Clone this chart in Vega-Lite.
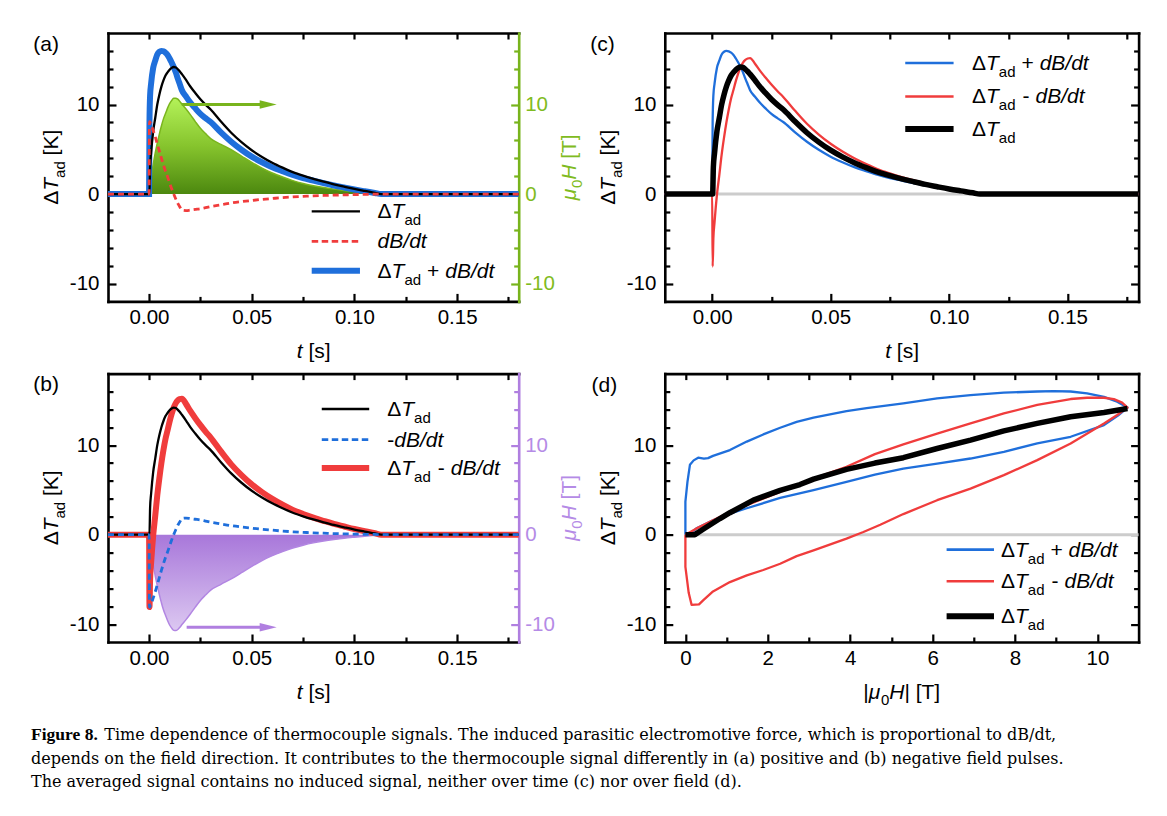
{
  "$schema": "https://vega.github.io/schema/vega-lite/v6.json",
  "background": "white",
  "padding": {"left": 31, "top": 31, "right": 10, "bottom": 10},
  "config": {
    "font": "Liberation Sans",
    "view": {"stroke": null},
    "axis": {"grid": false, "domainColor": "#000", "domainWidth": 2.6, "domainCap": "square", "tickColor": "#000", "tickWidth": 2.2, "labelFont": "Liberation Sans", "labelFontSize": 20.5, "labelColor": "#000", "labelFlush": false, "labelOverlap": false, "titlePadding": 0},
    "text": {"font": "Liberation Sans", "fontSize": 21, "align": "left", "baseline": "middle", "color": "#000"},
    "line": {"strokeCap": "butt"},
    "rule": {"strokeCap": "butt"}
  },
  "datasets": {
    "ts": [
      {"t": -0.02, "T": 0, "D": 0, "nD": 0, "P": 0, "M": 0, "H": 0, "nH": 0},
      {"t": 0, "T": 0, "D": 0, "nD": 0, "P": 0, "M": 0, "H": 0, "nH": 0},
      {"t": 0.0002, "T": 0, "D": 8.1, "nD": -8.1, "P": 8.1, "M": -8.1, "H": 0.3, "nH": -0.3},
      {"t": 0.0005, "T": 3.0, "D": 8.0, "nD": -8.0, "P": 11.0, "M": -5.0, "H": 0.9, "nH": -0.9},
      {"t": 0.001, "T": 4.6, "D": 7.75, "nD": -7.75, "P": 12.35, "M": -3.15, "H": 1.8, "nH": -1.8},
      {"t": 0.002, "T": 7.0, "D": 7.1, "nD": -7.1, "P": 14.1, "M": -0.1, "H": 3.3, "nH": -3.3},
      {"t": 0.003, "T": 8.5, "D": 6.4, "nD": -6.4, "P": 14.9, "M": 2.1, "H": 4.6, "nH": -4.6},
      {"t": 0.004, "T": 10.0, "D": 5.6, "nD": -5.6, "P": 15.6, "M": 4.4, "H": 5.7, "nH": -5.7},
      {"t": 0.005, "T": 11.1, "D": 4.8, "nD": -4.8, "P": 15.9, "M": 6.3, "H": 6.7, "nH": -6.7},
      {"t": 0.006, "T": 12.0, "D": 4.0, "nD": -4.0, "P": 16.0, "M": 8.0, "H": 7.6, "nH": -7.6},
      {"t": 0.007, "T": 12.7, "D": 3.25, "nD": -3.25, "P": 15.95, "M": 9.45, "H": 8.4, "nH": -8.4},
      {"t": 0.008, "T": 13.25, "D": 2.55, "nD": -2.55, "P": 15.8, "M": 10.7, "H": 9.0, "nH": -9.0},
      {"t": 0.009, "T": 13.6, "D": 1.95, "nD": -1.95, "P": 15.55, "M": 11.65, "H": 9.6, "nH": -9.6},
      {"t": 0.010, "T": 13.9, "D": 1.25, "nD": -1.25, "P": 15.15, "M": 12.65, "H": 10.1, "nH": -10.1},
      {"t": 0.011, "T": 14.1, "D": 0.6, "nD": -0.6, "P": 14.7, "M": 13.5, "H": 10.45, "nH": -10.45},
      {"t": 0.012, "T": 14.2, "D": 0, "nD": 0, "P": 14.2, "M": 14.2, "H": 10.7, "nH": -10.7},
      {"t": 0.013, "T": 14.15, "D": -0.55, "nD": 0.55, "P": 13.6, "M": 14.7, "H": 10.72, "nH": -10.72},
      {"t": 0.014, "T": 13.95, "D": -1.05, "nD": 1.05, "P": 12.9, "M": 15.0, "H": 10.6, "nH": -10.6},
      {"t": 0.015, "T": 13.7, "D": -1.45, "nD": 1.45, "P": 12.25, "M": 15.15, "H": 10.35, "nH": -10.35},
      {"t": 0.016, "T": 13.4, "D": -1.8, "nD": 1.8, "P": 11.6, "M": 15.2, "H": 10.05, "nH": -10.05},
      {"t": 0.018, "T": 12.75, "D": -1.85, "nD": 1.85, "P": 10.9, "M": 14.6, "H": 9.5, "nH": -9.5},
      {"t": 0.020, "T": 12.05, "D": -1.8, "nD": 1.8, "P": 10.25, "M": 13.85, "H": 8.9, "nH": -8.9},
      {"t": 0.0225, "T": 11.3, "D": -1.72, "nD": 1.72, "P": 9.58, "M": 13.02, "H": 8.1, "nH": -8.1},
      {"t": 0.025, "T": 10.6, "D": -1.64, "nD": 1.64, "P": 8.96, "M": 12.24, "H": 7.35, "nH": -7.35},
      {"t": 0.0275, "T": 10.0, "D": -1.52, "nD": 1.52, "P": 8.48, "M": 11.52, "H": 6.75, "nH": -6.75},
      {"t": 0.030, "T": 9.45, "D": -1.4, "nD": 1.4, "P": 8.05, "M": 10.85, "H": 6.2, "nH": -6.2},
      {"t": 0.035, "T": 8.1, "D": -1.2, "nD": 1.2, "P": 6.9, "M": 9.3, "H": 5.55, "nH": -5.55},
      {"t": 0.040, "T": 6.85, "D": -1.0, "nD": 1.0, "P": 5.85, "M": 7.85, "H": 4.95, "nH": -4.95},
      {"t": 0.045, "T": 5.8, "D": -0.85, "nD": 0.85, "P": 4.95, "M": 6.65, "H": 4.25, "nH": -4.25},
      {"t": 0.050, "T": 4.9, "D": -0.72, "nD": 0.72, "P": 4.18, "M": 5.62, "H": 3.55, "nH": -3.55},
      {"t": 0.055, "T": 4.15, "D": -0.6, "nD": 0.6, "P": 3.55, "M": 4.75, "H": 2.9, "nH": -2.9},
      {"t": 0.060, "T": 3.5, "D": -0.5, "nD": 0.5, "P": 3.0, "M": 4.0, "H": 2.35, "nH": -2.35},
      {"t": 0.065, "T": 2.95, "D": -0.4, "nD": 0.4, "P": 2.55, "M": 3.35, "H": 1.9, "nH": -1.9},
      {"t": 0.070, "T": 2.45, "D": -0.32, "nD": 0.32, "P": 2.13, "M": 2.77, "H": 1.5, "nH": -1.5},
      {"t": 0.075, "T": 2.05, "D": -0.26, "nD": 0.26, "P": 1.79, "M": 2.31, "H": 1.18, "nH": -1.18},
      {"t": 0.080, "T": 1.7, "D": -0.2, "nD": 0.2, "P": 1.5, "M": 1.9, "H": 0.92, "nH": -0.92},
      {"t": 0.085, "T": 1.38, "D": -0.16, "nD": 0.16, "P": 1.22, "M": 1.54, "H": 0.72, "nH": -0.72},
      {"t": 0.090, "T": 1.08, "D": -0.12, "nD": 0.12, "P": 0.96, "M": 1.2, "H": 0.55, "nH": -0.55},
      {"t": 0.095, "T": 0.82, "D": -0.09, "nD": 0.09, "P": 0.73, "M": 0.91, "H": 0.4, "nH": -0.4},
      {"t": 0.100, "T": 0.57, "D": -0.06, "nD": 0.06, "P": 0.51, "M": 0.63, "H": 0.28, "nH": -0.28},
      {"t": 0.105, "T": 0.35, "D": -0.04, "nD": 0.04, "P": 0.31, "M": 0.39, "H": 0.17, "nH": -0.17},
      {"t": 0.110, "T": 0.14, "D": -0.02, "nD": 0.02, "P": 0.12, "M": 0.16, "H": 0.08, "nH": -0.08},
      {"t": 0.113, "T": 0, "D": 0, "nD": 0, "P": 0, "M": 0, "H": 0.02, "nH": -0.02},
      {"t": 0.115, "T": 0, "D": 0, "nD": 0, "P": 0, "M": 0, "H": 0, "nH": 0},
      {"t": 0.18, "T": 0, "D": 0, "nD": 0, "P": 0, "M": 0, "H": 0, "nH": 0}
    ],
    "loop": [
      {"s": "P", "k": 1, "h": 0, "v": 0}, {"s": "P", "k": 2, "h": 0, "v": 3.7}, {"s": "P", "k": 3, "h": 0.05, "v": 5.9}, {"s": "P", "k": 4, "h": 0.11, "v": 7.8},
      {"s": "P", "k": 5, "h": 0.2, "v": 8.3}, {"s": "P", "k": 6, "h": 0.31, "v": 8.6}, {"s": "P", "k": 7, "h": 0.45, "v": 8.5}, {"s": "P", "k": 8, "h": 0.55, "v": 8.55},
      {"s": "P", "k": 9, "h": 0.67, "v": 8.8}, {"s": "P", "k": 10, "h": 1.08, "v": 9.45}, {"s": "P", "k": 11, "h": 1.49, "v": 10.4}, {"s": "P", "k": 12, "h": 1.89, "v": 11.2},
      {"s": "P", "k": 13, "h": 2.3, "v": 11.95}, {"s": "P", "k": 14, "h": 2.7, "v": 12.6}, {"s": "P", "k": 15, "h": 3.11, "v": 13.07}, {"s": "P", "k": 16, "h": 3.51, "v": 13.44},
      {"s": "P", "k": 17, "h": 3.91, "v": 13.8}, {"s": "P", "k": 18, "h": 4.4, "v": 14.15}, {"s": "P", "k": 19, "h": 5.29, "v": 14.67}, {"s": "P", "k": 20, "h": 6.11, "v": 15.23},
      {"s": "P", "k": 21, "h": 6.92, "v": 15.6}, {"s": "P", "k": 22, "h": 7.73, "v": 15.87}, {"s": "P", "k": 23, "h": 8.54, "v": 16.0}, {"s": "P", "k": 24, "h": 8.94, "v": 16.05},
      {"s": "P", "k": 25, "h": 9.35, "v": 16.0}, {"s": "P", "k": 26, "h": 9.75, "v": 15.8}, {"s": "P", "k": 27, "h": 10.16, "v": 15.4}, {"s": "P", "k": 28, "h": 10.48, "v": 14.86},
      {"s": "P", "k": 29, "h": 10.73, "v": 14.2}, {"s": "P", "k": 30, "h": 10.5, "v": 13.3}, {"s": "P", "k": 31, "h": 10.16, "v": 12.25}, {"s": "P", "k": 32, "h": 9.35, "v": 10.94},
      {"s": "P", "k": 33, "h": 8.54, "v": 10.19}, {"s": "P", "k": 34, "h": 7.73, "v": 9.26}, {"s": "P", "k": 35, "h": 6.92, "v": 8.51}, {"s": "P", "k": 36, "h": 6.11, "v": 7.95},
      {"s": "P", "k": 37, "h": 5.29, "v": 7.39}, {"s": "P", "k": 38, "h": 4.6, "v": 6.7}, {"s": "P", "k": 39, "h": 3.91, "v": 5.9}, {"s": "P", "k": 40, "h": 3.11, "v": 4.97},
      {"s": "P", "k": 41, "h": 2.3, "v": 4.1}, {"s": "P", "k": 42, "h": 1.49, "v": 2.95}, {"s": "P", "k": 43, "h": 1.08, "v": 2.35}, {"s": "P", "k": 44, "h": 0.67, "v": 1.6},
      {"s": "P", "k": 45, "h": 0.26, "v": 0.67}, {"s": "P", "k": 46, "h": 0.11, "v": 0.1}, {"s": "P", "k": 47, "h": 0, "v": 0},
      {"s": "M", "k": 1, "h": 0, "v": 0}, {"s": "M", "k": 2, "h": 0, "v": -3.6}, {"s": "M", "k": 3, "h": 0.08, "v": -6.5}, {"s": "M", "k": 4, "h": 0.15, "v": -7.84},
      {"s": "M", "k": 5, "h": 0.33, "v": -7.8}, {"s": "M", "k": 6, "h": 0.43, "v": -7.35}, {"s": "M", "k": 7, "h": 0.67, "v": -6.35}, {"s": "M", "k": 8, "h": 1.08, "v": -5.3},
      {"s": "M", "k": 9, "h": 1.49, "v": -4.55}, {"s": "M", "k": 10, "h": 1.89, "v": -3.95}, {"s": "M", "k": 11, "h": 2.3, "v": -3.25}, {"s": "M", "k": 12, "h": 2.7, "v": -2.4},
      {"s": "M", "k": 13, "h": 3.11, "v": -1.75}, {"s": "M", "k": 14, "h": 3.91, "v": -0.45}, {"s": "M", "k": 15, "h": 4.32, "v": 0.3}, {"s": "M", "k": 16, "h": 4.73, "v": 1.1},
      {"s": "M", "k": 17, "h": 5.29, "v": 2.3}, {"s": "M", "k": 18, "h": 6.11, "v": 3.85}, {"s": "M", "k": 19, "h": 6.92, "v": 5.15}, {"s": "M", "k": 20, "h": 7.73, "v": 6.65},
      {"s": "M", "k": 21, "h": 8.54, "v": 8.33}, {"s": "M", "k": 22, "h": 9.35, "v": 10.19}, {"s": "M", "k": 23, "h": 10.16, "v": 12.43}, {"s": "M", "k": 24, "h": 10.48, "v": 13.37},
      {"s": "M", "k": 25, "h": 10.73, "v": 14.2}, {"s": "M", "k": 26, "h": 10.6, "v": 14.75}, {"s": "M", "k": 27, "h": 10.4, "v": 15.15}, {"s": "M", "k": 28, "h": 10.16, "v": 15.3},
      {"s": "M", "k": 29, "h": 9.75, "v": 15.3}, {"s": "M", "k": 30, "h": 9.35, "v": 15.16}, {"s": "M", "k": 31, "h": 8.54, "v": 14.5}, {"s": "M", "k": 32, "h": 7.73, "v": 13.55},
      {"s": "M", "k": 33, "h": 6.92, "v": 12.43}, {"s": "M", "k": 34, "h": 6.11, "v": 11.3}, {"s": "M", "k": 35, "h": 5.29, "v": 10.08}, {"s": "M", "k": 36, "h": 4.6, "v": 9.0},
      {"s": "M", "k": 37, "h": 3.91, "v": 7.58}, {"s": "M", "k": 38, "h": 3.11, "v": 6.27}, {"s": "M", "k": 39, "h": 2.3, "v": 4.78}, {"s": "M", "k": 40, "h": 1.49, "v": 3.29},
      {"s": "M", "k": 41, "h": 1.08, "v": 2.54}, {"s": "M", "k": 42, "h": 0.67, "v": 1.6}, {"s": "M", "k": 43, "h": 0.26, "v": 0.67}, {"s": "M", "k": 44, "h": 0, "v": 0},
      {"s": "T", "k": 1, "h": 0, "v": 0}, {"s": "T", "k": 2, "h": 0.23, "v": 0}, {"s": "T", "k": 3, "h": 0.43, "v": 0.6}, {"s": "T", "k": 4, "h": 0.84, "v": 1.8},
      {"s": "T", "k": 5, "h": 1.08, "v": 2.45}, {"s": "T", "k": 6, "h": 1.65, "v": 3.85}, {"s": "T", "k": 7, "h": 2.3, "v": 4.95}, {"s": "T", "k": 8, "h": 2.78, "v": 5.6},
      {"s": "T", "k": 9, "h": 3.11, "v": 6.2}, {"s": "T", "k": 10, "h": 3.91, "v": 7.3}, {"s": "T", "k": 11, "h": 4.6, "v": 8.0}, {"s": "T", "k": 12, "h": 5.29, "v": 8.6},
      {"s": "T", "k": 13, "h": 6.11, "v": 9.63}, {"s": "T", "k": 14, "h": 6.92, "v": 10.57}, {"s": "T", "k": 15, "h": 7.73, "v": 11.6}, {"s": "T", "k": 16, "h": 8.54, "v": 12.43},
      {"s": "T", "k": 17, "h": 9.35, "v": 13.18}, {"s": "T", "k": 18, "h": 10.16, "v": 13.66}, {"s": "T", "k": 19, "h": 10.73, "v": 14.1}
    ]
  },
  "columns": 2,
  "align": "none",
  "bounds": "flush",
  "spacing": {"row": 71.6, "column": 145.8},
  "concat": [
    {
      "width": 410.7, "height": 268.4,
      "resolve": {"axis": {"x": "independent", "y": "independent"}},
      "layer": [
        {"data": {"name": "ts"},
         "mark": {"type": "area", "interpolate": "monotone", "color": {"gradient": "linear", "x1": 0, "y1": 0, "x2": 0, "y2": 1, "stops": [{"offset": 0, "color": "#b4f259"}, {"offset": 0.5, "color": "#86c42d"}, {"offset": 1, "color": "#4c880f"}]}},
         "encoding": {
           "x": {"field": "t", "type": "quantitative", "scale": {"domain": [-0.02, 0.18], "nice": false, "zero": false}, "axis": {"orient": "bottom", "values": [0, 0.05, 0.1, 0.15], "labelExpr": "format(datum.value, '.2f')", "tickSize": -8, "labelPadding": 14, "title": null}},
           "y": {"field": "H", "type": "quantitative", "scale": {"domain": [-12, 18], "nice": false, "zero": false}, "axis": {"orient": "left", "values": [-10, 0, 10], "labelExpr": "'' + datum.value", "tickSize": -8, "labelPadding": 17, "title": null}}}},
        {"data": {"name": "ts"},
         "mark": {"type": "line", "interpolate": "monotone", "color": "#7ab51e", "strokeWidth": 1.5},
         "encoding": {
           "x": {"field": "t", "type": "quantitative", "axis": {"orient": "bottom", "values": [0.025, 0.075, 0.125, 0.175], "labels": false, "domain": false, "tickSize": -5, "title": null}},
           "y": {"field": "H", "type": "quantitative", "axis": {"orient": "left", "values": [-8, -6, -4, -2, 2, 4, 6, 8, 12, 14, 16], "labels": false, "domain": false, "tickSize": -5, "title": null}}}},
        {"data": {"name": "ts"},
         "mark": {"type": "line", "interpolate": "monotone", "color": "#1f6fdb", "strokeWidth": 6},
         "encoding": {
           "x": {"field": "t", "type": "quantitative", "axis": {"orient": "top", "values": [0, 0.025, 0.05, 0.075, 0.1, 0.125, 0.15, 0.175], "labels": false, "tickSize": -6, "title": null}},
           "y": {"field": "P", "type": "quantitative", "axis": {"orient": "right", "values": [-10, 0, 10], "labelExpr": "'' + datum.value", "tickSize": -8, "labelPadding": 14, "domainColor": "#78b41c", "tickColor": "#78b41c", "labelColor": "#7fbb21", "title": null}}}},
        {"data": {"name": "ts"},
         "mark": {"type": "line", "interpolate": "monotone", "color": "#000", "strokeWidth": 2.3},
         "encoding": {
           "x": {"field": "t", "type": "quantitative", "axis": null},
           "y": {"field": "T", "type": "quantitative", "axis": {"orient": "right", "values": [-8, -6, -4, -2, 2, 4, 6, 8, 12, 14, 16], "labels": false, "domain": false, "tickSize": -5, "tickColor": "#78b41c", "title": null}}}},
        {"data": {"name": "ts"},
         "mark": {"type": "line", "interpolate": "monotone", "color": "#f03c3c", "strokeWidth": 2.8, "strokeDash": [6, 4]},
         "encoding": {"x": {"field": "t", "type": "quantitative", "axis": null}, "y": {"field": "D", "type": "quantitative", "axis": null}}},
        {"data": {"values": [{"k": "field arrow"}]}, "mark": {"type": "rule", "color": "#78b41c", "strokeWidth": 3},
         "encoding": {"x": {"datum": 0.0159, "axis": null}, "x2": {"datum": 0.0575}, "y": {"datum": 10, "axis": null}}},
        {"data": {"values": [{"k": "field arrow"}]}, "mark": {"type": "point", "shape": "M-1,-0.5L1,0L-1,0.5Z", "filled": true, "size": 289, "color": "#78b41c", "opacity": 1},
         "encoding": {"x": {"datum": 0.058, "axis": null}, "y": {"datum": 10, "axis": null}}},
        {"data": {"values": [{"k": "ΔT_ad"}]}, "mark": {"type": "rule", "color": "#000", "strokeWidth": 2.4},
         "encoding": {"x": {"datum": 0.0792, "axis": null}, "x2": {"datum": 0.1027}, "y": {"datum": -1.94, "axis": null}}},
        {"data": {"values": [{"k": "dB/dt"}]}, "mark": {"type": "rule", "color": "#f03c3c", "strokeWidth": 2.8, "strokeDash": [6.5, 3.5]},
         "encoding": {"x": {"datum": 0.0792, "axis": null}, "x2": {"datum": 0.1027}, "y": {"datum": -5.29, "axis": null}}},
        {"data": {"values": [{"k": "ΔT_ad + dB/dt"}]}, "mark": {"type": "rule", "color": "#1f6fdb", "strokeWidth": 6},
         "encoding": {"x": {"datum": 0.0792, "axis": null}, "x2": {"datum": 0.1027}, "y": {"datum": -8.57, "axis": null}}},
        {"data": {"values": [{"s": "(a)"}]}, "mark": {"type": "text", "dx": -74.7, "dy": 11.8}, "encoding": {"x": {"datum": -0.02, "axis": null}, "y": {"datum": 18, "axis": null}, "text": {"field": "s"}}},
        {"data": {"values": [{"s": "Δ"}]}, "mark": {"type": "text", "angle": 270, "dx": -37.5, "dy": -56}, "encoding": {"x": {"datum": -0.02, "axis": null}, "y": {"datum": 3, "axis": null}, "text": {"field": "s"}}},
        {"data": {"values": [{"s": "T"}]}, "mark": {"type": "text", "angle": 270, "fontStyle": "italic", "dx": -23.5, "dy": -56}, "encoding": {"x": {"datum": -0.02, "axis": null}, "y": {"datum": 3, "axis": null}, "text": {"field": "s"}}},
        {"data": {"values": [{"s": "ad"}]}, "mark": {"type": "text", "angle": 270, "fontSize": 15, "dx": -10.7, "dy": -48}, "encoding": {"x": {"datum": -0.02, "axis": null}, "y": {"datum": 3, "axis": null}, "text": {"field": "s"}}},
        {"data": {"values": [{"s": "[K]"}]}, "mark": {"type": "text", "angle": 270, "dx": 11.8, "dy": -56}, "encoding": {"x": {"datum": -0.02, "axis": null}, "y": {"datum": 3, "axis": null}, "text": {"field": "s"}}},
        {"data": {"values": [{"s": "μ"}]}, "mark": {"type": "text", "angle": 270, "fontStyle": "italic", "color": "#7fbb21", "dx": -33, "dy": 51}, "encoding": {"x": {"datum": 0.18, "axis": null}, "y": {"datum": 3, "axis": null}, "text": {"field": "s"}}},
        {"data": {"values": [{"s": "0"}]}, "mark": {"type": "text", "angle": 270, "fontSize": 15, "color": "#7fbb21", "dx": -20.9, "dy": 58}, "encoding": {"x": {"datum": 0.18, "axis": null}, "y": {"datum": 3, "axis": null}, "text": {"field": "s"}}},
        {"data": {"values": [{"s": "H"}]}, "mark": {"type": "text", "angle": 270, "fontStyle": "italic", "color": "#7fbb21", "dx": -12.6, "dy": 51}, "encoding": {"x": {"datum": 0.18, "axis": null}, "y": {"datum": 3, "axis": null}, "text": {"field": "s"}}},
        {"data": {"values": [{"s": "[T]"}]}, "mark": {"type": "text", "angle": 270, "color": "#7fbb21", "dx": 8.4, "dy": 51}, "encoding": {"x": {"datum": 0.18, "axis": null}, "y": {"datum": 3, "axis": null}, "text": {"field": "s"}}},
        {"data": {"values": [{"s": "t"}]}, "mark": {"type": "text", "fontStyle": "italic", "dx": -16.5, "dy": 51}, "encoding": {"x": {"datum": 0.08, "axis": null}, "y": {"datum": -12, "axis": null}, "text": {"field": "s"}}},
        {"data": {"values": [{"s": "[s]"}]}, "mark": {"type": "text", "dx": -4.9, "dy": 51}, "encoding": {"x": {"datum": 0.08, "axis": null}, "y": {"datum": -12, "axis": null}, "text": {"field": "s"}}},
        {"data": {"values": [{"s": "Δ"}]}, "mark": {"type": "text", "dx": 0, "dy": 1}, "encoding": {"x": {"datum": 0.1113, "axis": null}, "y": {"datum": -1.94, "axis": null}, "text": {"field": "s"}}},
        {"data": {"values": [{"s": "T"}]}, "mark": {"type": "text", "fontStyle": "italic", "dx": 14, "dy": 1}, "encoding": {"x": {"datum": 0.1113, "axis": null}, "y": {"datum": -1.94, "axis": null}, "text": {"field": "s"}}},
        {"data": {"values": [{"s": "ad"}]}, "mark": {"type": "text", "fontSize": 15, "dx": 26.8, "dy": 9}, "encoding": {"x": {"datum": 0.1113, "axis": null}, "y": {"datum": -1.94, "axis": null}, "text": {"field": "s"}}},
        {"data": {"values": [{"s": "dB/dt"}]}, "mark": {"type": "text", "fontStyle": "italic", "dx": 0, "dy": 1}, "encoding": {"x": {"datum": 0.1113, "axis": null}, "y": {"datum": -5.29, "axis": null}, "text": {"field": "s"}}},
        {"data": {"values": [{"s": "Δ"}]}, "mark": {"type": "text", "dx": 0, "dy": 1}, "encoding": {"x": {"datum": 0.1113, "axis": null}, "y": {"datum": -8.57, "axis": null}, "text": {"field": "s"}}},
        {"data": {"values": [{"s": "T"}]}, "mark": {"type": "text", "fontStyle": "italic", "dx": 14, "dy": 1}, "encoding": {"x": {"datum": 0.1113, "axis": null}, "y": {"datum": -8.57, "axis": null}, "text": {"field": "s"}}},
        {"data": {"values": [{"s": "ad"}]}, "mark": {"type": "text", "fontSize": 15, "dx": 26.8, "dy": 9}, "encoding": {"x": {"datum": 0.1113, "axis": null}, "y": {"datum": -8.57, "axis": null}, "text": {"field": "s"}}},
        {"data": {"values": [{"s": "+"}]}, "mark": {"type": "text", "dx": 49.5, "dy": 1}, "encoding": {"x": {"datum": 0.1113, "axis": null}, "y": {"datum": -8.57, "axis": null}, "text": {"field": "s"}}},
        {"data": {"values": [{"s": "dB/dt"}]}, "mark": {"type": "text", "fontStyle": "italic", "dx": 67.6, "dy": 1}, "encoding": {"x": {"datum": 0.1113, "axis": null}, "y": {"datum": -8.57, "axis": null}, "text": {"field": "s"}}}
      ]
    },
    {
      "width": 473.8, "height": 268.4,
      "resolve": {"axis": {"x": "independent", "y": "independent"}},
      "layer": [
        {"data": {"values": [{"k": "zero"}]}, "mark": {"type": "rule", "color": "#cccccc", "strokeWidth": 3},
         "encoding": {"x": {"datum": 0, "axis": null}, "x2": {"datum": 0.18}, "y": {"datum": 0, "scale": {"domain": [-12, 18], "nice": false, "zero": false}, "axis": {"orient": "right", "values": [-8, -6, -4, -2, 2, 4, 6, 8, 12, 14, 16], "labels": false, "domain": false, "tickSize": -5, "title": null}}}},
        {"data": {"name": "ts"},
         "mark": {"type": "line", "interpolate": "monotone", "color": "#1f6fdb", "strokeWidth": 2.3},
         "encoding": {
           "x": {"field": "t", "type": "quantitative", "scale": {"domain": [-0.02, 0.18], "nice": false, "zero": false}, "axis": {"orient": "bottom", "values": [0, 0.05, 0.1, 0.15], "labelExpr": "format(datum.value, '.2f')", "tickSize": -8, "labelPadding": 14, "title": null}},
           "y": {"field": "P", "type": "quantitative", "axis": {"orient": "left", "values": [-10, 0, 10], "labelExpr": "'' + datum.value", "tickSize": -8, "labelPadding": 17, "title": null}}}},
        {"data": {"name": "ts"},
         "mark": {"type": "line", "interpolate": "monotone", "color": "#f03c3c", "strokeWidth": 2.3},
         "encoding": {
           "x": {"field": "t", "type": "quantitative", "axis": {"orient": "bottom", "values": [0.025, 0.075, 0.125, 0.175], "labels": false, "domain": false, "tickSize": -5, "title": null}},
           "y": {"field": "M", "type": "quantitative", "axis": {"orient": "left", "values": [-8, -6, -4, -2, 2, 4, 6, 8, 12, 14, 16], "labels": false, "domain": false, "tickSize": -5, "title": null}}}},
        {"data": {"name": "ts"},
         "mark": {"type": "line", "interpolate": "monotone", "color": "#000", "strokeWidth": 5.5, "strokeJoin": "round"},
         "encoding": {
           "x": {"field": "t", "type": "quantitative", "axis": {"orient": "top", "values": [0, 0.025, 0.05, 0.075, 0.1, 0.125, 0.15, 0.175], "labels": false, "tickSize": -6, "title": null}},
           "y": {"field": "T", "type": "quantitative", "axis": {"orient": "right", "values": [-10, 0, 10], "labels": false, "tickSize": -8, "title": null}}}},
        {"data": {"values": [{"k": "ΔT_ad + dB/dt"}]}, "mark": {"type": "rule", "color": "#1f6fdb", "strokeWidth": 2.6},
         "encoding": {"x": {"datum": 0.0815, "axis": null}, "x2": {"datum": 0.1019}, "y": {"datum": 14.65, "axis": null}}},
        {"data": {"values": [{"k": "ΔT_ad - dB/dt"}]}, "mark": {"type": "rule", "color": "#f03c3c", "strokeWidth": 2.6},
         "encoding": {"x": {"datum": 0.0815, "axis": null}, "x2": {"datum": 0.1019}, "y": {"datum": 10.91, "axis": null}}},
        {"data": {"values": [{"k": "ΔT_ad"}]}, "mark": {"type": "rule", "color": "#000", "strokeWidth": 6},
         "encoding": {"x": {"datum": 0.0815, "axis": null}, "x2": {"datum": 0.1019}, "y": {"datum": 7.27, "axis": null}}},
        {"data": {"values": [{"s": "(c)"}]}, "mark": {"type": "text", "dx": -74.5, "dy": 11.8}, "encoding": {"x": {"datum": -0.02, "axis": null}, "y": {"datum": 18, "axis": null}, "text": {"field": "s"}}},
        {"data": {"values": [{"s": "Δ"}]}, "mark": {"type": "text", "angle": 270, "dx": -37.5, "dy": -55.5}, "encoding": {"x": {"datum": -0.02, "axis": null}, "y": {"datum": 3, "axis": null}, "text": {"field": "s"}}},
        {"data": {"values": [{"s": "T"}]}, "mark": {"type": "text", "angle": 270, "fontStyle": "italic", "dx": -23.5, "dy": -55.5}, "encoding": {"x": {"datum": -0.02, "axis": null}, "y": {"datum": 3, "axis": null}, "text": {"field": "s"}}},
        {"data": {"values": [{"s": "ad"}]}, "mark": {"type": "text", "angle": 270, "fontSize": 15, "dx": -10.7, "dy": -47.5}, "encoding": {"x": {"datum": -0.02, "axis": null}, "y": {"datum": 3, "axis": null}, "text": {"field": "s"}}},
        {"data": {"values": [{"s": "[K]"}]}, "mark": {"type": "text", "angle": 270, "dx": 11.8, "dy": -55.5}, "encoding": {"x": {"datum": -0.02, "axis": null}, "y": {"datum": 3, "axis": null}, "text": {"field": "s"}}},
        {"data": {"values": [{"s": "t"}]}, "mark": {"type": "text", "fontStyle": "italic", "dx": -16.5, "dy": 51}, "encoding": {"x": {"datum": 0.08, "axis": null}, "y": {"datum": -12, "axis": null}, "text": {"field": "s"}}},
        {"data": {"values": [{"s": "[s]"}]}, "mark": {"type": "text", "dx": -4.9, "dy": 51}, "encoding": {"x": {"datum": 0.08, "axis": null}, "y": {"datum": -12, "axis": null}, "text": {"field": "s"}}},
        {"data": {"values": [{"s": "Δ"}]}, "mark": {"type": "text", "dx": 0, "dy": 1}, "encoding": {"x": {"datum": 0.1097, "axis": null}, "y": {"datum": 14.65, "axis": null}, "text": {"field": "s"}}},
        {"data": {"values": [{"s": "T"}]}, "mark": {"type": "text", "fontStyle": "italic", "dx": 14, "dy": 1}, "encoding": {"x": {"datum": 0.1097, "axis": null}, "y": {"datum": 14.65, "axis": null}, "text": {"field": "s"}}},
        {"data": {"values": [{"s": "ad"}]}, "mark": {"type": "text", "fontSize": 15, "dx": 26.8, "dy": 9}, "encoding": {"x": {"datum": 0.1097, "axis": null}, "y": {"datum": 14.65, "axis": null}, "text": {"field": "s"}}},
        {"data": {"values": [{"s": "+"}]}, "mark": {"type": "text", "dx": 49.5, "dy": 1}, "encoding": {"x": {"datum": 0.1097, "axis": null}, "y": {"datum": 14.65, "axis": null}, "text": {"field": "s"}}},
        {"data": {"values": [{"s": "dB/dt"}]}, "mark": {"type": "text", "fontStyle": "italic", "dx": 67.6, "dy": 1}, "encoding": {"x": {"datum": 0.1097, "axis": null}, "y": {"datum": 14.65, "axis": null}, "text": {"field": "s"}}},
        {"data": {"values": [{"s": "Δ"}]}, "mark": {"type": "text", "dx": 0, "dy": 1}, "encoding": {"x": {"datum": 0.1097, "axis": null}, "y": {"datum": 10.91, "axis": null}, "text": {"field": "s"}}},
        {"data": {"values": [{"s": "T"}]}, "mark": {"type": "text", "fontStyle": "italic", "dx": 14, "dy": 1}, "encoding": {"x": {"datum": 0.1097, "axis": null}, "y": {"datum": 10.91, "axis": null}, "text": {"field": "s"}}},
        {"data": {"values": [{"s": "ad"}]}, "mark": {"type": "text", "fontSize": 15, "dx": 26.8, "dy": 9}, "encoding": {"x": {"datum": 0.1097, "axis": null}, "y": {"datum": 10.91, "axis": null}, "text": {"field": "s"}}},
        {"data": {"values": [{"s": "-"}]}, "mark": {"type": "text", "dx": 50.5, "dy": 1}, "encoding": {"x": {"datum": 0.1097, "axis": null}, "y": {"datum": 10.91, "axis": null}, "text": {"field": "s"}}},
        {"data": {"values": [{"s": "dB/dt"}]}, "mark": {"type": "text", "fontStyle": "italic", "dx": 63.5, "dy": 1}, "encoding": {"x": {"datum": 0.1097, "axis": null}, "y": {"datum": 10.91, "axis": null}, "text": {"field": "s"}}},
        {"data": {"values": [{"s": "Δ"}]}, "mark": {"type": "text", "dx": 0, "dy": 1}, "encoding": {"x": {"datum": 0.1097, "axis": null}, "y": {"datum": 7.27, "axis": null}, "text": {"field": "s"}}},
        {"data": {"values": [{"s": "T"}]}, "mark": {"type": "text", "fontStyle": "italic", "dx": 14, "dy": 1}, "encoding": {"x": {"datum": 0.1097, "axis": null}, "y": {"datum": 7.27, "axis": null}, "text": {"field": "s"}}},
        {"data": {"values": [{"s": "ad"}]}, "mark": {"type": "text", "fontSize": 15, "dx": 26.8, "dy": 9}, "encoding": {"x": {"datum": 0.1097, "axis": null}, "y": {"datum": 7.27, "axis": null}, "text": {"field": "s"}}}
      ]
    },
    {
      "width": 410.7, "height": 268.4,
      "resolve": {"axis": {"x": "independent", "y": "independent"}},
      "layer": [
        {"data": {"name": "ts"},
         "mark": {"type": "area", "interpolate": "monotone", "color": {"gradient": "linear", "x1": 0, "y1": 0, "x2": 0, "y2": 1, "stops": [{"offset": 0, "color": "#a877da"}, {"offset": 1, "color": "#dcc8f1"}]}},
         "encoding": {
           "x": {"field": "t", "type": "quantitative", "scale": {"domain": [-0.02, 0.18], "nice": false, "zero": false}, "axis": {"orient": "bottom", "values": [0, 0.05, 0.1, 0.15], "labelExpr": "format(datum.value, '.2f')", "tickSize": -8, "labelPadding": 14, "title": null}},
           "y": {"field": "nH", "type": "quantitative", "scale": {"domain": [-12, 18], "nice": false, "zero": false}, "axis": {"orient": "left", "values": [-10, 0, 10], "labelExpr": "'' + datum.value", "tickSize": -8, "labelPadding": 17, "title": null}}}},
        {"data": {"name": "ts"},
         "mark": {"type": "line", "interpolate": "monotone", "color": "#b286e2", "strokeWidth": 1.5},
         "encoding": {
           "x": {"field": "t", "type": "quantitative", "axis": {"orient": "bottom", "values": [0.025, 0.075, 0.125, 0.175], "labels": false, "domain": false, "tickSize": -5, "title": null}},
           "y": {"field": "nH", "type": "quantitative", "axis": {"orient": "left", "values": [-8, -6, -4, -2, 2, 4, 6, 8, 12, 14, 16], "labels": false, "domain": false, "tickSize": -5, "title": null}}}},
        {"data": {"name": "ts"},
         "mark": {"type": "line", "interpolate": "monotone", "color": "#f03c3c", "strokeWidth": 6},
         "encoding": {
           "x": {"field": "t", "type": "quantitative", "axis": {"orient": "top", "values": [0, 0.025, 0.05, 0.075, 0.1, 0.125, 0.15, 0.175], "labels": false, "tickSize": -6, "title": null}},
           "y": {"field": "M", "type": "quantitative", "axis": {"orient": "right", "values": [-10, 0, 10], "labelExpr": "'' + datum.value", "tickSize": -8, "labelPadding": 14, "domainColor": "#b07fe0", "tickColor": "#b07fe0", "labelColor": "#b58be6", "title": null}}}},
        {"data": {"name": "ts"},
         "mark": {"type": "line", "interpolate": "monotone", "color": "#000", "strokeWidth": 2.3},
         "encoding": {
           "x": {"field": "t", "type": "quantitative", "axis": null},
           "y": {"field": "T", "type": "quantitative", "axis": {"orient": "right", "values": [-8, -6, -4, -2, 2, 4, 6, 8, 12, 14, 16], "labels": false, "domain": false, "tickSize": -5, "tickColor": "#b07fe0", "title": null}}}},
        {"data": {"name": "ts"},
         "mark": {"type": "line", "interpolate": "monotone", "color": "#1f6fdb", "strokeWidth": 2.8, "strokeDash": [6, 4]},
         "encoding": {"x": {"field": "t", "type": "quantitative", "axis": null}, "y": {"field": "nD", "type": "quantitative", "axis": null}}},
        {"data": {"values": [{"k": "field arrow"}]}, "mark": {"type": "rule", "color": "#b07fe0", "strokeWidth": 3},
         "encoding": {"x": {"datum": 0.0183, "axis": null}, "x2": {"datum": 0.0575}, "y": {"datum": -10.36, "axis": null}}},
        {"data": {"values": [{"k": "field arrow"}]}, "mark": {"type": "point", "shape": "M-1,-0.5L1,0L-1,0.5Z", "filled": true, "size": 289, "color": "#b07fe0", "opacity": 1},
         "encoding": {"x": {"datum": 0.058, "axis": null}, "y": {"datum": -10.36, "axis": null}}},
        {"data": {"values": [{"k": "ΔT_ad"}]}, "mark": {"type": "rule", "color": "#000", "strokeWidth": 2.4},
         "encoding": {"x": {"datum": 0.0841, "axis": null}, "x2": {"datum": 0.1072}, "y": {"datum": 14.04, "axis": null}}},
        {"data": {"values": [{"k": "-dB/dt"}]}, "mark": {"type": "rule", "color": "#1f6fdb", "strokeWidth": 2.8, "strokeDash": [6.5, 3.5]},
         "encoding": {"x": {"datum": 0.0841, "axis": null}, "x2": {"datum": 0.1072}, "y": {"datum": 10.62, "axis": null}}},
        {"data": {"values": [{"k": "ΔT_ad - dB/dt"}]}, "mark": {"type": "rule", "color": "#f03c3c", "strokeWidth": 6},
         "encoding": {"x": {"datum": 0.0841, "axis": null}, "x2": {"datum": 0.1072}, "y": {"datum": 7.45, "axis": null}}},
        {"data": {"values": [{"s": "(b)"}]}, "mark": {"type": "text", "dx": -74.7, "dy": 11}, "encoding": {"x": {"datum": -0.02, "axis": null}, "y": {"datum": 18, "axis": null}, "text": {"field": "s"}}},
        {"data": {"values": [{"s": "Δ"}]}, "mark": {"type": "text", "angle": 270, "dx": -37.5, "dy": -56}, "encoding": {"x": {"datum": -0.02, "axis": null}, "y": {"datum": 3, "axis": null}, "text": {"field": "s"}}},
        {"data": {"values": [{"s": "T"}]}, "mark": {"type": "text", "angle": 270, "fontStyle": "italic", "dx": -23.5, "dy": -56}, "encoding": {"x": {"datum": -0.02, "axis": null}, "y": {"datum": 3, "axis": null}, "text": {"field": "s"}}},
        {"data": {"values": [{"s": "ad"}]}, "mark": {"type": "text", "angle": 270, "fontSize": 15, "dx": -10.7, "dy": -48}, "encoding": {"x": {"datum": -0.02, "axis": null}, "y": {"datum": 3, "axis": null}, "text": {"field": "s"}}},
        {"data": {"values": [{"s": "[K]"}]}, "mark": {"type": "text", "angle": 270, "dx": 11.8, "dy": -56}, "encoding": {"x": {"datum": -0.02, "axis": null}, "y": {"datum": 3, "axis": null}, "text": {"field": "s"}}},
        {"data": {"values": [{"s": "μ"}]}, "mark": {"type": "text", "angle": 270, "fontStyle": "italic", "color": "#b58be6", "dx": -33, "dy": 51}, "encoding": {"x": {"datum": 0.18, "axis": null}, "y": {"datum": 3, "axis": null}, "text": {"field": "s"}}},
        {"data": {"values": [{"s": "0"}]}, "mark": {"type": "text", "angle": 270, "fontSize": 15, "color": "#b58be6", "dx": -20.9, "dy": 58}, "encoding": {"x": {"datum": 0.18, "axis": null}, "y": {"datum": 3, "axis": null}, "text": {"field": "s"}}},
        {"data": {"values": [{"s": "H"}]}, "mark": {"type": "text", "angle": 270, "fontStyle": "italic", "color": "#b58be6", "dx": -12.6, "dy": 51}, "encoding": {"x": {"datum": 0.18, "axis": null}, "y": {"datum": 3, "axis": null}, "text": {"field": "s"}}},
        {"data": {"values": [{"s": "[T]"}]}, "mark": {"type": "text", "angle": 270, "color": "#b58be6", "dx": 8.4, "dy": 51}, "encoding": {"x": {"datum": 0.18, "axis": null}, "y": {"datum": 3, "axis": null}, "text": {"field": "s"}}},
        {"data": {"values": [{"s": "t"}]}, "mark": {"type": "text", "fontStyle": "italic", "dx": -16.5, "dy": 51}, "encoding": {"x": {"datum": 0.08, "axis": null}, "y": {"datum": -12, "axis": null}, "text": {"field": "s"}}},
        {"data": {"values": [{"s": "[s]"}]}, "mark": {"type": "text", "dx": -4.9, "dy": 51}, "encoding": {"x": {"datum": 0.08, "axis": null}, "y": {"datum": -12, "axis": null}, "text": {"field": "s"}}},
        {"data": {"values": [{"s": "Δ"}]}, "mark": {"type": "text", "dx": 0, "dy": 1}, "encoding": {"x": {"datum": 0.116, "axis": null}, "y": {"datum": 14.04, "axis": null}, "text": {"field": "s"}}},
        {"data": {"values": [{"s": "T"}]}, "mark": {"type": "text", "fontStyle": "italic", "dx": 14, "dy": 1}, "encoding": {"x": {"datum": 0.116, "axis": null}, "y": {"datum": 14.04, "axis": null}, "text": {"field": "s"}}},
        {"data": {"values": [{"s": "ad"}]}, "mark": {"type": "text", "fontSize": 15, "dx": 26.8, "dy": 9}, "encoding": {"x": {"datum": 0.116, "axis": null}, "y": {"datum": 14.04, "axis": null}, "text": {"field": "s"}}},
        {"data": {"values": [{"s": "-"}]}, "mark": {"type": "text", "dx": 0, "dy": 1}, "encoding": {"x": {"datum": 0.116, "axis": null}, "y": {"datum": 10.62, "axis": null}, "text": {"field": "s"}}},
        {"data": {"values": [{"s": "dB/dt"}]}, "mark": {"type": "text", "fontStyle": "italic", "dx": 7, "dy": 1}, "encoding": {"x": {"datum": 0.116, "axis": null}, "y": {"datum": 10.62, "axis": null}, "text": {"field": "s"}}},
        {"data": {"values": [{"s": "Δ"}]}, "mark": {"type": "text", "dx": 0, "dy": 1}, "encoding": {"x": {"datum": 0.116, "axis": null}, "y": {"datum": 7.45, "axis": null}, "text": {"field": "s"}}},
        {"data": {"values": [{"s": "T"}]}, "mark": {"type": "text", "fontStyle": "italic", "dx": 14, "dy": 1}, "encoding": {"x": {"datum": 0.116, "axis": null}, "y": {"datum": 7.45, "axis": null}, "text": {"field": "s"}}},
        {"data": {"values": [{"s": "ad"}]}, "mark": {"type": "text", "fontSize": 15, "dx": 26.8, "dy": 9}, "encoding": {"x": {"datum": 0.116, "axis": null}, "y": {"datum": 7.45, "axis": null}, "text": {"field": "s"}}},
        {"data": {"values": [{"s": "-"}]}, "mark": {"type": "text", "dx": 50.5, "dy": 1}, "encoding": {"x": {"datum": 0.116, "axis": null}, "y": {"datum": 7.45, "axis": null}, "text": {"field": "s"}}},
        {"data": {"values": [{"s": "dB/dt"}]}, "mark": {"type": "text", "fontStyle": "italic", "dx": 63.5, "dy": 1}, "encoding": {"x": {"datum": 0.116, "axis": null}, "y": {"datum": 7.45, "axis": null}, "text": {"field": "s"}}}
      ]
    },
    {
      "width": 473.8, "height": 268.4,
      "resolve": {"axis": {"x": "independent", "y": "independent"}},
      "layer": [
        {"data": {"values": [{"k": "zero"}]}, "mark": {"type": "rule", "color": "#cccccc", "strokeWidth": 3},
         "encoding": {"x": {"datum": 0, "scale": {"domain": [-0.5, 11], "nice": false, "zero": false}, "axis": null}, "x2": {"datum": 11}, "y": {"datum": 0, "scale": {"domain": [-12, 18], "nice": false, "zero": false}, "axis": {"orient": "right", "values": [-8, -6, -4, -2, 2, 4, 6, 8, 12, 14, 16], "labels": false, "domain": false, "tickSize": -5, "title": null}}}},
        {"data": {"name": "loop"}, "transform": [{"filter": "datum.s === 'P'"}],
         "mark": {"type": "line", "color": "#1f6fdb", "strokeWidth": 2.3, "strokeJoin": "round"},
         "encoding": {
           "x": {"field": "h", "type": "quantitative", "axis": {"orient": "bottom", "values": [0, 2, 4, 6, 8, 10], "labelExpr": "'' + datum.value", "tickSize": -8, "labelPadding": 14, "title": null}},
           "y": {"field": "v", "type": "quantitative", "axis": {"orient": "left", "values": [-10, 0, 10], "labelExpr": "'' + datum.value", "tickSize": -8, "labelPadding": 17, "title": null}},
           "order": {"field": "k", "type": "quantitative"}}},
        {"data": {"name": "loop"}, "transform": [{"filter": "datum.s === 'M'"}],
         "mark": {"type": "line", "color": "#f03c3c", "strokeWidth": 2.3, "strokeJoin": "round"},
         "encoding": {
           "x": {"field": "h", "type": "quantitative", "axis": {"orient": "bottom", "values": [1, 3, 5, 7, 9], "labels": false, "domain": false, "tickSize": -5, "title": null}},
           "y": {"field": "v", "type": "quantitative", "axis": {"orient": "left", "values": [-8, -6, -4, -2, 2, 4, 6, 8, 12, 14, 16], "labels": false, "domain": false, "tickSize": -5, "title": null}},
           "order": {"field": "k", "type": "quantitative"}}},
        {"data": {"name": "loop"}, "transform": [{"filter": "datum.s === 'T'"}],
         "mark": {"type": "line", "color": "#000", "strokeWidth": 5.5, "strokeJoin": "round"},
         "encoding": {
           "x": {"field": "h", "type": "quantitative", "axis": {"orient": "top", "values": [0, 1, 2, 3, 4, 5, 6, 7, 8, 9, 10], "labels": false, "tickSize": -6, "title": null}},
           "y": {"field": "v", "type": "quantitative", "axis": {"orient": "right", "values": [-10, 0, 10], "labels": false, "tickSize": -8, "title": null}},
           "order": {"field": "k", "type": "quantitative"}}},
        {"data": {"values": [{"k": "ΔT_ad + dB/dt"}]}, "mark": {"type": "rule", "color": "#1f6fdb", "strokeWidth": 2.6},
         "encoding": {"x": {"datum": 6.34, "axis": null}, "x2": {"datum": 7.49}, "y": {"datum": -1.67, "axis": null}}},
        {"data": {"values": [{"k": "ΔT_ad - dB/dt"}]}, "mark": {"type": "rule", "color": "#f03c3c", "strokeWidth": 2.6},
         "encoding": {"x": {"datum": 6.34, "axis": null}, "x2": {"datum": 7.49}, "y": {"datum": -5.21, "axis": null}}},
        {"data": {"values": [{"k": "ΔT_ad"}]}, "mark": {"type": "rule", "color": "#000", "strokeWidth": 6},
         "encoding": {"x": {"datum": 6.34, "axis": null}, "x2": {"datum": 7.49}, "y": {"datum": -9.13, "axis": null}}},
        {"data": {"values": [{"s": "(d)"}]}, "mark": {"type": "text", "dx": -73.3, "dy": 12}, "encoding": {"x": {"datum": -0.5, "axis": null}, "y": {"datum": 18, "axis": null}, "text": {"field": "s"}}},
        {"data": {"values": [{"s": "Δ"}]}, "mark": {"type": "text", "angle": 270, "dx": -37.5, "dy": -55.5}, "encoding": {"x": {"datum": -0.5, "axis": null}, "y": {"datum": 3, "axis": null}, "text": {"field": "s"}}},
        {"data": {"values": [{"s": "T"}]}, "mark": {"type": "text", "angle": 270, "fontStyle": "italic", "dx": -23.5, "dy": -55.5}, "encoding": {"x": {"datum": -0.5, "axis": null}, "y": {"datum": 3, "axis": null}, "text": {"field": "s"}}},
        {"data": {"values": [{"s": "ad"}]}, "mark": {"type": "text", "angle": 270, "fontSize": 15, "dx": -10.7, "dy": -47.5}, "encoding": {"x": {"datum": -0.5, "axis": null}, "y": {"datum": 3, "axis": null}, "text": {"field": "s"}}},
        {"data": {"values": [{"s": "[K]"}]}, "mark": {"type": "text", "angle": 270, "dx": 11.8, "dy": -55.5}, "encoding": {"x": {"datum": -0.5, "axis": null}, "y": {"datum": 3, "axis": null}, "text": {"field": "s"}}},
        {"data": {"values": [{"s": "|"}]}, "mark": {"type": "text", "dx": -38.4, "dy": 51}, "encoding": {"x": {"datum": 5.25, "axis": null}, "y": {"datum": -12, "axis": null}, "text": {"field": "s"}}},
        {"data": {"values": [{"s": "μ"}]}, "mark": {"type": "text", "fontStyle": "italic", "dx": -32.9, "dy": 51}, "encoding": {"x": {"datum": 5.25, "axis": null}, "y": {"datum": -12, "axis": null}, "text": {"field": "s"}}},
        {"data": {"values": [{"s": "0"}]}, "mark": {"type": "text", "fontSize": 15, "dx": -20.8, "dy": 58}, "encoding": {"x": {"datum": 5.25, "axis": null}, "y": {"datum": -12, "axis": null}, "text": {"field": "s"}}},
        {"data": {"values": [{"s": "H"}]}, "mark": {"type": "text", "fontStyle": "italic", "dx": -12.5, "dy": 51}, "encoding": {"x": {"datum": 5.25, "axis": null}, "y": {"datum": -12, "axis": null}, "text": {"field": "s"}}},
        {"data": {"values": [{"s": "|"}]}, "mark": {"type": "text", "dx": 2.7, "dy": 51}, "encoding": {"x": {"datum": 5.25, "axis": null}, "y": {"datum": -12, "axis": null}, "text": {"field": "s"}}},
        {"data": {"values": [{"s": "[T]"}]}, "mark": {"type": "text", "dx": 14, "dy": 51}, "encoding": {"x": {"datum": 5.25, "axis": null}, "y": {"datum": -12, "axis": null}, "text": {"field": "s"}}},
        {"data": {"values": [{"s": "Δ"}]}, "mark": {"type": "text", "dx": 0, "dy": 1}, "encoding": {"x": {"datum": 7.66, "axis": null}, "y": {"datum": -1.67, "axis": null}, "text": {"field": "s"}}},
        {"data": {"values": [{"s": "T"}]}, "mark": {"type": "text", "fontStyle": "italic", "dx": 14, "dy": 1}, "encoding": {"x": {"datum": 7.66, "axis": null}, "y": {"datum": -1.67, "axis": null}, "text": {"field": "s"}}},
        {"data": {"values": [{"s": "ad"}]}, "mark": {"type": "text", "fontSize": 15, "dx": 26.8, "dy": 9}, "encoding": {"x": {"datum": 7.66, "axis": null}, "y": {"datum": -1.67, "axis": null}, "text": {"field": "s"}}},
        {"data": {"values": [{"s": "+"}]}, "mark": {"type": "text", "dx": 49.5, "dy": 1}, "encoding": {"x": {"datum": 7.66, "axis": null}, "y": {"datum": -1.67, "axis": null}, "text": {"field": "s"}}},
        {"data": {"values": [{"s": "dB/dt"}]}, "mark": {"type": "text", "fontStyle": "italic", "dx": 67.6, "dy": 1}, "encoding": {"x": {"datum": 7.66, "axis": null}, "y": {"datum": -1.67, "axis": null}, "text": {"field": "s"}}},
        {"data": {"values": [{"s": "Δ"}]}, "mark": {"type": "text", "dx": 0, "dy": 1}, "encoding": {"x": {"datum": 7.66, "axis": null}, "y": {"datum": -5.21, "axis": null}, "text": {"field": "s"}}},
        {"data": {"values": [{"s": "T"}]}, "mark": {"type": "text", "fontStyle": "italic", "dx": 14, "dy": 1}, "encoding": {"x": {"datum": 7.66, "axis": null}, "y": {"datum": -5.21, "axis": null}, "text": {"field": "s"}}},
        {"data": {"values": [{"s": "ad"}]}, "mark": {"type": "text", "fontSize": 15, "dx": 26.8, "dy": 9}, "encoding": {"x": {"datum": 7.66, "axis": null}, "y": {"datum": -5.21, "axis": null}, "text": {"field": "s"}}},
        {"data": {"values": [{"s": "-"}]}, "mark": {"type": "text", "dx": 50.5, "dy": 1}, "encoding": {"x": {"datum": 7.66, "axis": null}, "y": {"datum": -5.21, "axis": null}, "text": {"field": "s"}}},
        {"data": {"values": [{"s": "dB/dt"}]}, "mark": {"type": "text", "fontStyle": "italic", "dx": 63.5, "dy": 1}, "encoding": {"x": {"datum": 7.66, "axis": null}, "y": {"datum": -5.21, "axis": null}, "text": {"field": "s"}}},
        {"data": {"values": [{"s": "Δ"}]}, "mark": {"type": "text", "dx": 0, "dy": 1}, "encoding": {"x": {"datum": 7.66, "axis": null}, "y": {"datum": -9.13, "axis": null}, "text": {"field": "s"}}},
        {"data": {"values": [{"s": "T"}]}, "mark": {"type": "text", "fontStyle": "italic", "dx": 14, "dy": 1}, "encoding": {"x": {"datum": 7.66, "axis": null}, "y": {"datum": -9.13, "axis": null}, "text": {"field": "s"}}},
        {"data": {"values": [{"s": "ad"}]}, "mark": {"type": "text", "fontSize": 15, "dx": 26.8, "dy": 9}, "encoding": {"x": {"datum": 7.66, "axis": null}, "y": {"datum": -9.13, "axis": null}, "text": {"field": "s"}}}
      ]
    },
    {
      "width": 410.7, "height": 80,
      "layer": [
        {"data": {"values": [{"s": "Figure 8."}]}, "mark": {"type": "text", "font": "Liberation Serif", "fontSize": 17.5, "fontWeight": "bold", "baseline": "alphabetic", "dx": -77},
         "encoding": {"x": {"datum": 0, "scale": {"domain": [0, 410.7]}, "axis": null}, "y": {"datum": 26, "scale": {"domain": [0, 80], "reverse": true}, "axis": null}, "text": {"field": "s"}}},
        {"data": {"values": [{"s": "Time dependence of thermocouple signals. The induced parasitic electromotive force, which is proportional to dB/dt,"}]}, "mark": {"type": "text", "font": "DejaVu Serif", "fontSize": 16, "baseline": "alphabetic", "dx": -3.7},
         "encoding": {"x": {"datum": 0, "axis": null}, "y": {"datum": 26, "axis": null}, "text": {"field": "s"}}},
        {"data": {"values": [{"s": "depends on the field direction. It contributes to the thermocouple signal differently in (a) positive and (b) negative field pulses."}]}, "mark": {"type": "text", "font": "DejaVu Serif", "fontSize": 16, "baseline": "alphabetic", "dx": -77},
         "encoding": {"x": {"datum": 0, "axis": null}, "y": {"datum": 49.7, "axis": null}, "text": {"field": "s"}}},
        {"data": {"values": [{"s": "The averaged signal contains no induced signal, neither over time (c) nor over field (d)."}]}, "mark": {"type": "text", "font": "DejaVu Serif", "fontSize": 16, "baseline": "alphabetic", "dx": -77},
         "encoding": {"x": {"datum": 0, "axis": null}, "y": {"datum": 73.2, "axis": null}, "text": {"field": "s"}}}
      ]
    }
  ]
}
